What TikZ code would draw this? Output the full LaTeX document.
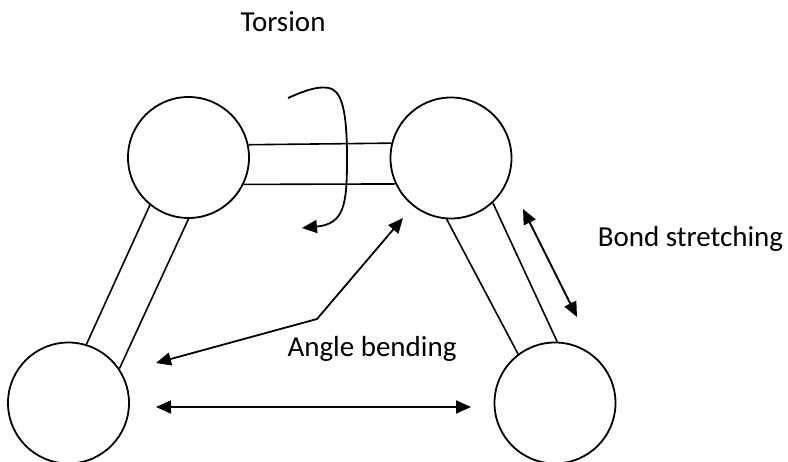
\documentclass[tikz,border=0pt]{standalone}
\usepackage{fontspec}
\setmainfont{Carlito}
\usetikzlibrary{arrows.meta}
\begin{document}
\begin{tikzpicture}[x=1pt,y=-1pt,
  atom/.style={circle,draw,minimum size=121pt,inner sep=0pt,line width=1.8pt},
  bond/.style={line width=1.6pt},
  arr/.style={line width=1.8pt,-{Triangle[length=15pt,width=13pt]}},
  darr/.style={line width=1.8pt,{Triangle[length=15pt,width=13pt]}-{Triangle[length=15pt,width=13pt]}},
  lbl/.style={font=\fontsize{29}{34}\selectfont,inner sep=0pt,anchor=base}]
\useasboundingbox (0,0) rectangle (788,462);
% atoms
\node[atom] (A) at (188.5,157.5) {};
\node[atom] (B) at (451,158) {};
\node[atom] (C) at (68.5,403) {};
\node[atom] (D) at (555,403) {};
% bonds
\draw[bond] (A.12.9) -- (B.166.5);
\draw[bond] (A.-26) -- (B.205.7);
\draw[bond] (A.231) -- (C.73.5);
\draw[bond] (A.270.5) -- (C.34.7);
\draw[bond] (B.266.2) -- (D.127.6);
\draw[bond] (B.313) -- (D.88);
% labels
\node[lbl] (tor) at (283,32) {Torsion};
\node[lbl] (bs) at (690.5,247) {Bond stretching};
\node[lbl] (ab) at (372,357) {Angle bending};
% torsion arrow
\coordinate (ts) at (288,98);
\coordinate (tt) at (347,160);
\coordinate (te) at (302,228);
\draw[arr] (ts) .. controls (308,89) and (322,85) .. (332,89)
  .. controls (344,95) and (347,120) .. (tt)
  .. controls (347,205) and (344,224) .. (te);
% bond stretching arrow
\coordinate (bs1) at (523,209);
\coordinate (bs2) at (577,317);
\draw[darr] (bs1) -- (bs2);
% angle bending arrow
\coordinate (ab1) at (403,218);
\coordinate (knee) at (317,319);
\coordinate (ab2) at (156,363);
\draw[darr] (ab1) -- (knee) -- (ab2);
% horizontal arrow
\coordinate (h1) at (156,407);
\coordinate (h2) at (471,407);
\draw[darr] (h1) -- (h2);
\end{tikzpicture}
\end{document}
